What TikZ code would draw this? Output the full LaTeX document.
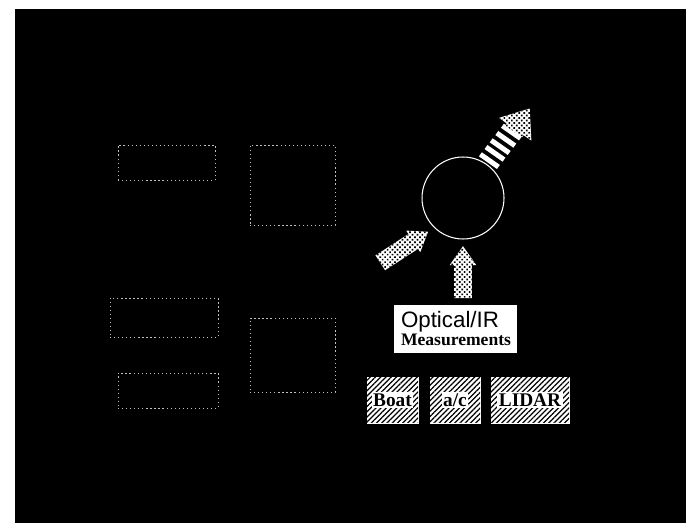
\documentclass[tikz,border=0pt]{standalone}
\usepackage{fontspec}
\setmainfont{Liberation Serif}
\setsansfont{Liberation Sans}
\usetikzlibrary{shapes.arrows,patterns.meta,calc}
\setlength{\fboxsep}{0.8pt}

\begin{document}
\begin{tikzpicture}[
  x=0.02cm, y=-0.02cm,
  faint/.style={draw=white!75!black, dash pattern=on 0.7pt off 1.6pt, line width=0.5pt, inner sep=0},
  dotfill/.style={fill=white, postaction={pattern={Dots[angle=45,distance=2pt,radius=0.68pt]}, pattern color=black}},
  hatch/.style={draw=white, fill=white, inner sep=0, minimum height=0.92cm,
    postaction={pattern={Lines[angle=45,distance=2.1pt,line width=0.7pt]}, pattern color=black},
    font=\fontsize{11}{12}\selectfont\bfseries},
  fat/.style={single arrow, dotfill, inner sep=0, draw=none},
  stripe/.style={fill=white, inner sep=0, minimum width=0.1cm, minimum height=0.44cm, rotate=55},
]
  \useasboundingbox (0,0) rectangle (695,523);
  \fill[white] (0,0) rectangle (695,523);
  \fill[black] (15,9) rectangle (686,523);

  % faded blocks on the left
  \node[faint, minimum width=1.94cm, minimum height=0.7cm] (b1) at (166.5,162.5) {};
  \node[faint, minimum width=1.7cm, minimum height=1.6cm] (b2) at (292.5,185) {};
  \node[faint, minimum width=2.16cm, minimum height=0.78cm] (b3) at (164,317.5) {};
  \node[faint, minimum width=2.0cm, minimum height=0.7cm] (b4) at (168,390.5) {};
  \node[faint, minimum width=1.7cm, minimum height=1.48cm] (b5) at (292.5,355) {};

  \node[circle, draw=white, line width=0.6pt, minimum size=1.64cm] (sys) at (463,198) {};

  \node[draw=white, fill=white, minimum width=2.44cm, minimum height=0.94cm,
    inner sep=0, text width=2.16cm, align=left, font=\fontsize{10}{10.4}\selectfont]
    (meas) at (455,328.5)
    {{\sffamily\fontsize{12.7}{12.7}\selectfont Optical/IR}\\{\bfseries Measurements}};

  \node[hatch, minimum width=1.02cm] (boat) at (392.5,400) {\colorbox{white}{Boat}};
  \node[hatch, minimum width=1.0cm] (ac) at (455,400) {\colorbox{white}{a/c}};
  \node[hatch, minimum width=1.56cm] (lidar) at (530,400) {\colorbox{white}{LIDAR}};

  \coordinate (in) at (380,263);
  \coordinate (out) at (530,108);

  % block arrows
  \node[fat, anchor=tip, rotate=90, minimum height=1.04cm, inner ysep=0.17cm,
    single arrow head extend=0.09cm, single arrow tip angle=70]
    (up) at ([yshift=-0.12cm]sys.south) {};
  \node[fat, anchor=tail, rotate=33, minimum height=1.14cm, inner ysep=0.17cm,
    single arrow head extend=0.08cm, single arrow tip angle=72]
    (inarr) at (in) {};
  \foreach \f in {0.06,0.19,0.31,0.44,0.57}
    \node[stripe] at ($(sys.55)!\f!(out)$) {};
  \node[fat, anchor=tip, rotate=55, minimum height=0.56cm, inner ysep=0.2cm,
    single arrow head extend=0.19cm, single arrow tip angle=76]
    (outarr) at (out) {};
\end{tikzpicture}
\end{document}
